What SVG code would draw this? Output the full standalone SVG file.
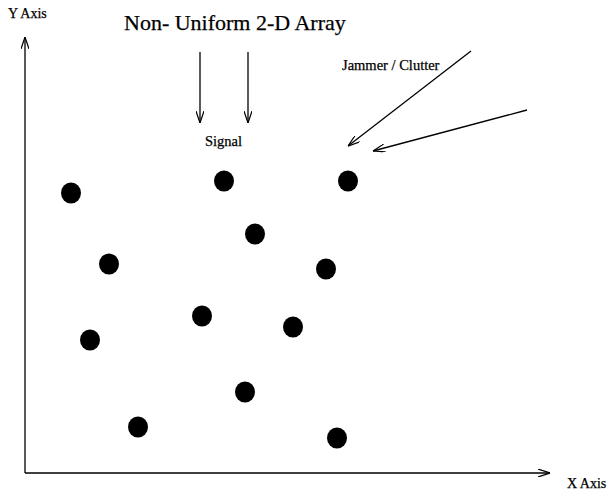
<svg xmlns="http://www.w3.org/2000/svg" width="609" height="493" viewBox="0 0 609 493">
<style>
text{font-family:"Liberation Serif","Times New Roman",serif;fill:#000;stroke:#000;stroke-width:0.25}
.ln{stroke:#000;stroke-width:1.3;fill:none}
.dot{fill:#000}
</style>
<defs>
<marker id="ah" viewBox="0 0 12 8" refX="12" refY="4" markerWidth="12" markerHeight="8" markerUnits="userSpaceOnUse" orient="auto">
<path d="M0,0 L12,4 L0,8" fill="none" stroke="#000" stroke-width="1.2"/>
</marker>
</defs>
<rect width="609" height="493" fill="#fff"/>
<g id="labels">
<text x="8" y="18" font-size="14">Y Axis</text>
<text x="567" y="488" font-size="14">X Axis</text>
<text x="124" y="30" font-size="22" stroke-width="0">Non- Uniform 2-D Array</text>
<text x="223.5" y="146" font-size="14.5" text-anchor="middle">Signal</text>
<text x="342" y="70" font-size="14.5">Jammer / Clutter</text>
</g>
<g id="connectors">
<line class="ln" x1="25" y1="473" x2="25" y2="37" marker-end="url(#ah)"/>
<line class="ln" x1="25" y1="473" x2="550" y2="473" marker-end="url(#ah)"/>
<line class="ln" x1="200" y1="52" x2="200" y2="123" marker-end="url(#ah)"/>
<line class="ln" x1="248" y1="52" x2="248" y2="123" marker-end="url(#ah)"/>
<line class="ln" x1="471" y1="51" x2="348" y2="146" marker-end="url(#ah)"/>
<line class="ln" x1="527" y1="110" x2="373" y2="151" marker-end="url(#ah)"/>
</g>
<g id="n1"><ellipse class="dot" cx="71" cy="193" rx="10" ry="10.5"/></g>
<g id="n2"><ellipse class="dot" cx="224" cy="181" rx="10" ry="10.5"/></g>
<g id="n3"><ellipse class="dot" cx="348" cy="181" rx="10" ry="10.5"/></g>
<g id="n4"><ellipse class="dot" cx="255" cy="234" rx="10" ry="10.5"/></g>
<g id="n5"><ellipse class="dot" cx="109" cy="264" rx="10" ry="10.5"/></g>
<g id="n6"><ellipse class="dot" cx="326" cy="269" rx="10" ry="10.5"/></g>
<g id="n7"><ellipse class="dot" cx="202" cy="316" rx="10" ry="10.5"/></g>
<g id="n8"><ellipse class="dot" cx="293" cy="327" rx="10" ry="10.5"/></g>
<g id="n9"><ellipse class="dot" cx="90" cy="340" rx="10" ry="10.5"/></g>
<g id="n10"><ellipse class="dot" cx="245" cy="392" rx="10" ry="10.5"/></g>
<g id="n11"><ellipse class="dot" cx="138" cy="427" rx="10" ry="10.5"/></g>
<g id="n12"><ellipse class="dot" cx="337" cy="438" rx="10" ry="10.5"/></g>
</svg>
